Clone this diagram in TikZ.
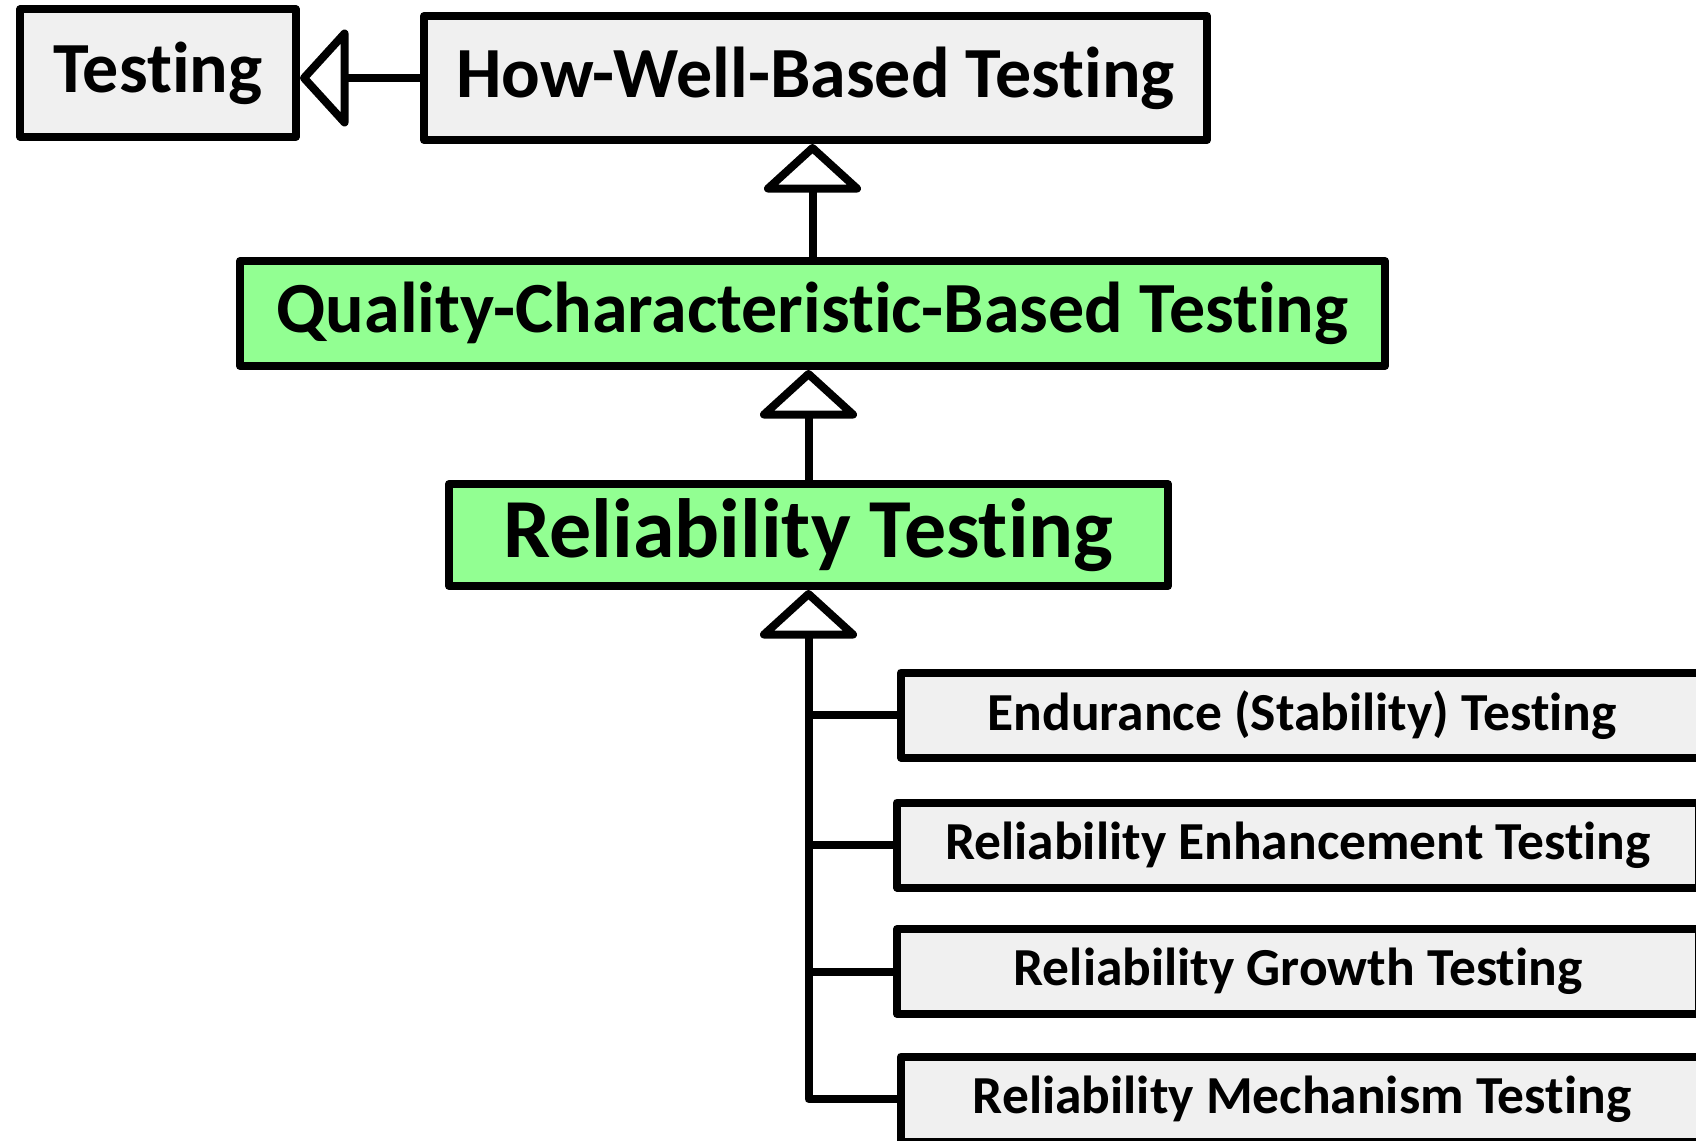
\documentclass[tikz,border=0pt]{standalone}
\usepackage{fontspec}
\setmainfont{Carlito}[Ligatures=NoCommon]
\usetikzlibrary{arrows.meta, positioning}
\definecolor{boxgrey}{RGB}{240,240,240}
\definecolor{boxgreen}{RGB}{146,255,146}

\begin{document}
\begin{tikzpicture}[x=1pt, y=-1pt, line width=8pt, line join=round,
  box/.style={rectangle, draw, fill=boxgrey, inner sep=0pt, font=\bfseries\fontsize{72}{80}\selectfont},
  greenbox/.style={box, fill=boxgreen},
  subbox/.style={box, minimum width=802pt, minimum height=85pt, font=\bfseries\fontsize{53.5}{60}\selectfont},
  inherit/.style={-{Triangle[round, length=50pt, width=108pt, fill=white]}}]
\useasboundingbox (0,0) rectangle (1696,1140);
\clip (0,0) rectangle (1696,1140);

% top row
\node (testing) [box, minimum width=276pt, minimum height=127pt] at (158,73) {Testing};
\node (howwell) [box, minimum width=783pt, minimum height=124pt] at (815.5,78) {How-Well-Based Testing};
% green chain
\node (quality) [greenbox, minimum width=1145pt, minimum height=105pt] at (812.5,313.5) {Quality-Characteristic-Based Testing};
\node (reliab) [greenbox, minimum width=719pt, minimum height=102pt, font=\bfseries\fontsize{84}{90}\selectfont] at (808.5,535) {Reliability Testing};
% kinds of reliability testing
\node (endur) [subbox] at (1302,715) {Endurance (Stability) Testing};
\node (enhance) [subbox] at (1298,845) {Reliability Enhancement Testing};
\node (growth) [subbox] at (1298,971.5) {Reliability Growth Testing};
\node (mechan) [subbox] at (1302,1099) {Reliability Mechanism Testing};

\draw[inherit] (howwell.west) -- (howwell.west -| testing.east);
\draw[inherit] (quality.north) -- (quality.north |- howwell.south);
\draw[inherit] (reliab.north) -- (reliab.north |- quality.south);
\draw[inherit] (mechan.west) -- (mechan.west -| reliab.south) -- (reliab.south);
\draw (reliab.south |- endur.west) -- (endur.west);
\draw (reliab.south |- enhance.west) -- (enhance.west);
\draw (reliab.south |- growth.west) -- (growth.west);
\end{tikzpicture}
\end{document}
